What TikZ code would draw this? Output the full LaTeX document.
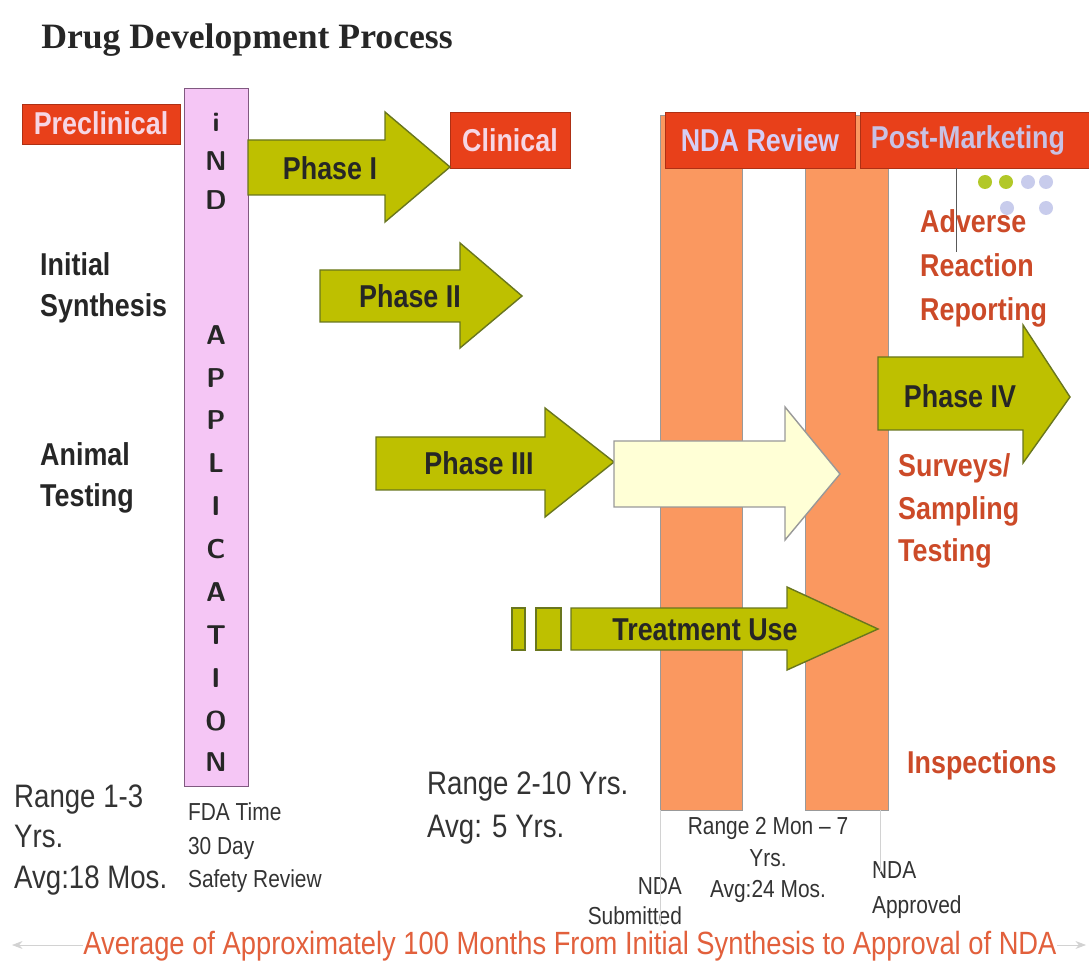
\documentclass[tikz,border=0pt]{standalone}
\usepackage{fontspec}
\usepackage{tikz}
\setmainfont{Liberation Serif}
\newfontfamily\labelfont[FakeStretch=0.85]{Liberation Sans}
\usetikzlibrary{arrows.meta,positioning}

\definecolor{hdrred}{RGB}{232,64,26}
\definecolor{indpink}{RGB}{245,198,245}
\definecolor{olivefill}{RGB}{190,192,0}
\definecolor{oliveline}{RGB}{105,118,30}
\definecolor{creamfill}{RGB}{255,255,214}
\definecolor{barorange}{RGB}{250,152,96}
\definecolor{redtext}{RGB}{204,74,40}
\definecolor{avgtext}{RGB}{226,96,60}
\definecolor{pinktext}{RGB}{246,214,228}
\definecolor{lavtext}{RGB}{214,206,246}
\definecolor{dotgreen}{RGB}{178,200,40}
\definecolor{dotlav}{RGB}{200,204,236}

\tikzset{
    hdr/.style={fill=hdrred, draw=hdrred!75!black},
    phasearrow/.style={fill=olivefill, draw=oliveline, thick},
    bar/.style={fill=barorange, draw=gray!80},
    lbl/.style={font=\labelfont\bfseries\fontsize{18}{24}\selectfont, text=black!85},
    redlbl/.style={lbl, text=redtext, align=left, anchor=west},
    plain/.style={font=\labelfont\fontsize{18.5}{24}\selectfont, text=black!80, align=left},
    small/.style={font=\labelfont\fontsize{14}{18}\selectfont, text=black!80, inner sep=1pt},
    indletter/.style={font=\sffamily\bfseries\fontsize{15.5}{18}\selectfont, text=black!85}
}

\begin{document}
\begin{tikzpicture}[x=0.02cm, y=-0.02cm]
    \useasboundingbox (0,0) rectangle (1089,969);

    % Title
    \node[font=\bfseries\fontsize{20.3}{24}\selectfont, text=black!85] (title) at (247,40) {Drug Development Process};

    % NDA review bars
    \draw[bar] (660,115) rectangle (742,810);
    \draw[bar] (805,115) rectangle (888,810);

    % Headers
    \draw[hdr] (22,104) rectangle (180,144);
    \node[lbl, text=pinktext] (precl) at (101,123) {Preclinical};
    \draw[hdr] (450,112) rectangle (570,168);
    \node[lbl, text=pinktext] (clin) at (510,140) {Clinical};
    \draw[hdr] (665,112) rectangle (855,168);
    \node[lbl, text=lavtext] (ndarev) at (760,140) {NDA Review};
    \draw[hdr] (860,112) rectangle (1089,168);
    \node[lbl, text=lavtext!85!gray] (postm) at (968,140) {Post-Marketing};

    % IND application column
    \draw[fill=indpink, draw=gray!70!violet] (184,88) rectangle (248,786);
    \foreach \ch/\yy in {i/122,N/161,D/200,A/335,P/378,P/420,L/463,I/506,C/549,A/592,T/635,I/678,O/721,N/762}
        \node[indletter] (ind\yy) at (216,\yy) {\ch};

    % Phase arrows
    \draw[phasearrow] (248,140) -- (385,140) -- (385,112) -- (450,167) -- (385,222) -- (385,195) -- (248,195) -- cycle;
    \node[lbl] (ph1) at (330,168) {Phase I};
    \draw[phasearrow] (320,270) -- (460,270) -- (460,243) -- (522,296) -- (460,348) -- (460,322) -- (320,322) -- cycle;
    \node[lbl] (ph2) at (410,296) {Phase II};
    \draw[phasearrow] (376,437) -- (545,437) -- (545,408) -- (614,462) -- (545,517) -- (545,490) -- (376,490) -- cycle;
    \node[lbl] (ph3) at (479,463) {Phase III};
    \draw[fill=creamfill, draw=gray!80, thick] (614,441) -- (785,441) -- (785,407) -- (840,474) -- (785,540) -- (785,507) -- (614,507) -- cycle;

    % Treatment use
    \draw[phasearrow] (512,608) rectangle (525,650);
    \draw[phasearrow] (536,608) rectangle (561,650);
    \draw[phasearrow] (571,608) -- (787,608) -- (787,587) -- (878,629) -- (787,670) -- (787,650) -- (571,650) -- cycle;
    \node[lbl] (treat) at (705,630) {Treatment Use};

    % Phase IV
    \draw[phasearrow] (878,357) -- (1023,357) -- (1023,325) -- (1070,397) -- (1023,463) -- (1023,430) -- (878,430) -- cycle;
    \node[lbl] (ph4) at (960,396) {Phase IV};

    % Post-marketing notes
    \draw[gray!70!black] (956,168) -- (956,252);
    \fill[dotgreen] (985,182) circle (7) (1006,182) circle (7);
    \fill[dotlav] (1028,182) circle (7) (1046,182) circle (7) (1007,208) circle (7) (1046,208) circle (7);
    \node[redlbl] (adverse) at (914,268) {Adverse\\[1pt]Reaction\\[1pt]Reporting};
    \node[redlbl] (surveys) at (892,511) {Surveys/\\[0pt]Sampling\\[0pt]Testing};
    \node[redlbl] (insp) at (901,765) {Inspections};

    % Left labels
    \node[lbl, align=left, anchor=west] (synth) at (34,288) {Initial\\[-1pt]Synthesis};
    \node[lbl, align=left, anchor=west] (animal) at (34,478) {Animal\\[-1pt]Testing};

    % Durations
    \node[plain, anchor=west] (range1) at (8,840) {Range 1-3\\[-1pt]Yrs.\\[-1pt]Avg:18 Mos.};
    \node[small, align=left, anchor=west] (fda) at (186,848) {FDA Time\\[1pt]30 Day\\[1pt]Safety Review};
    \node[plain, anchor=west] (range2) at (421,808) {Range 2-10 Yrs.\\[0pt]Avg: 5 Yrs.};
    \node[small, align=center] (range3) at (768,860) {Range 2 Mon – 7\\Yrs.\\Avg:24 Mos.};
    \node[small, align=right, anchor=east] (ndasub) at (684,901) {NDA\\[-1pt]Submitted};
    \node[small, align=left, anchor=west] (ndaapp) at (870,890) {NDA\\[2pt]Approved};
    \draw[gray!35] (660,810) -- (660,926);
    \draw[gray!35] (880,810) -- (880,872);

    % Overall span
    \coordinate (spanl) at (12,945);
    \coordinate (spanr) at (1086,945);
    \draw[gray!35, {Stealth[length=6pt]}-{Stealth[length=6pt]}] (spanl) -- (spanr);
    \node[fill=white, inner sep=0pt, font=\labelfont\fontsize{18.3}{22}\selectfont, text=avgtext] (avg) at (570,946) {Average of Approximately 100 Months From Initial Synthesis to Approval of NDA};
\end{tikzpicture}
\end{document}
